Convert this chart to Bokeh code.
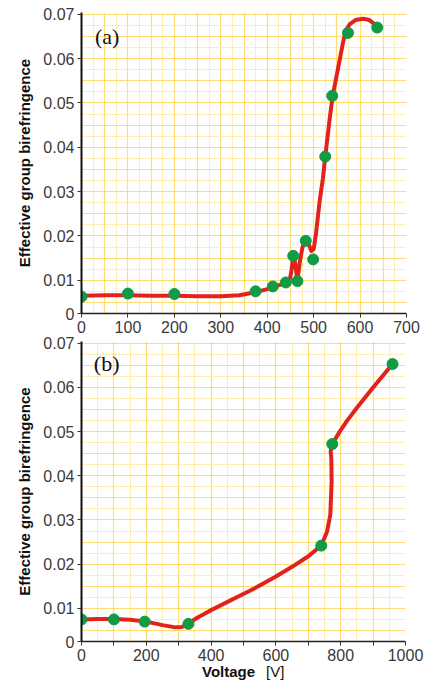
import numpy as np
from bokeh.plotting import figure
from bokeh.models import Range1d, FixedTicker, Label, Div
from bokeh.layouts import column
from bokeh.embed import file_html
from bokeh.resources import INLINE

# ---------------- data ----------------
# panel (a): fitted curve
a_curve_v = [0, 50, 100, 150, 200, 250, 300, 340, 375, 400, 412, 430, 441, 448, 452, 456,
             460, 465, 470, 476, 483, 490, 495, 500, 505, 513, 520, 525, 534, 541, 553,
             563, 570, 578, 590, 607, 620, 630, 637]
a_curve_y = [0.0065, 0.0066, 0.0066, 0.0065, 0.0065, 0.0064, 0.0064, 0.0066, 0.0073, 0.0080,
             0.0085, 0.0090, 0.0095, 0.0098, 0.0120, 0.0155, 0.0140, 0.0098, 0.0140, 0.0175,
             0.0189, 0.0180, 0.0166, 0.0170, 0.0204, 0.0279, 0.0330, 0.0379, 0.0460, 0.0516,
             0.0580, 0.0635, 0.0665, 0.0678, 0.0687, 0.0690, 0.0687, 0.0679, 0.0670]
# panel (a): measured points
a_pts_v = [0, 100, 200, 375, 412, 440, 456, 465, 483, 499, 525, 540, 574, 637]
a_pts_y = [0.0063, 0.0070, 0.0069, 0.0075, 0.0086, 0.0095, 0.0155, 0.0098, 0.0189, 0.0147,
           0.0379, 0.0516, 0.0658, 0.0670]

# panel (b): fitted curve
b_curve_v = [0, 50, 100, 150, 200, 250, 290, 310, 330, 345, 360, 380, 400, 430, 460, 490,
             520, 550, 600, 650, 700, 740, 758, 768, 772, 771, 769, 774, 797, 820, 850, 900,
             960]
b_curve_y = [0.0075, 0.0076, 0.0076, 0.0074, 0.0070, 0.0062, 0.0057, 0.0058, 0.0065, 0.0073,
             0.0080, 0.0088, 0.0096, 0.0107, 0.0118, 0.0129, 0.0140, 0.0152, 0.0172, 0.0194,
             0.0218, 0.0242, 0.0274, 0.0312, 0.0387, 0.0440, 0.0455, 0.0472, 0.0500, 0.0525,
             0.0554, 0.0600, 0.0653]
# panel (b): measured points
b_pts_v = [0, 100, 195, 330, 740, 774, 960]
b_pts_y = [0.0075, 0.0075, 0.0070, 0.0065, 0.0242, 0.0472, 0.0653]

# ticks
a_xticks = [0, 100, 200, 300, 400, 500, 600, 700]
b_xticks = [0, 100, 200, 300, 400, 500, 600, 700, 800, 900, 1000]
b_xtick_labels = ["0", "", "200", "", "400", "", "600", "", "800", "", "1000"]
y_axis_bottom = 0.0025
y_ticks = [y_axis_bottom, 0.01, 0.02, 0.03, 0.04, 0.05, 0.06, 0.07]
y_tick_labels = ["0", "0.01", "0.02", "0.03", "0.04", "0.05", "0.06", "0.07"]

y_label = "Effective group birefringence"
x_label_main = "Voltage"
x_label_unit = "[V]"

RED = "#E3231B"
GREEN = "#129A45"
FONT = "Liberation Sans"


def style(p, xticks, xlabels, xgrid_major, xgrid_minor):
    p.outline_line_color = None
    p.background_fill_color = "white"
    p.border_fill_color = "white"
    # grids (graph paper)
    p.xgrid.ticker = FixedTicker(ticks=xgrid_major, minor_ticks=xgrid_minor)
    p.ygrid.ticker = FixedTicker(ticks=list(np.arange(0.0, 0.0725, 0.005)),
                                 minor_ticks=list(np.arange(0.0025, 0.0725, 0.005)))
    for g in (p.xgrid, p.ygrid):
        g.grid_line_color = "#FFD24A"
        g.grid_line_alpha = 0.75
        g.grid_line_width = 1.2
        g.minor_grid_line_color = "#FFE07A"
        g.minor_grid_line_alpha = 0.85
        g.minor_grid_line_width = 1
        g.minor_grid_line_dash = "2 1"
    # axes
    p.xaxis.ticker = FixedTicker(ticks=xticks)
    p.xaxis.major_label_overrides = {t: l for t, l in zip(xticks, xlabels)}
    p.yaxis.ticker = FixedTicker(ticks=y_ticks)
    p.yaxis.major_label_overrides = {t: l for t, l in zip(y_ticks, y_tick_labels)}
    for ax in (p.xaxis, p.yaxis):
        ax.minor_tick_line_color = None
        ax.major_tick_in = 0
        ax.major_tick_out = 4
        ax.major_tick_line_color = "#333333"
        ax.major_label_text_font = FONT
        ax.major_label_text_font_size = "16px"
        ax.major_label_text_color = "#3a3a3a"
        ax.major_label_standoff = 3
    p.yaxis.axis_line_color = "#111111"
    p.yaxis.axis_line_width = 2
    p.xaxis.axis_line_color = "#222222"
    p.xaxis.axis_line_width = 1.5
    p.yaxis.axis_label = y_label
    p.yaxis.axis_label_text_font = FONT
    p.yaxis.axis_label_text_font_style = "bold"
    p.yaxis.axis_label_text_font_size = "15px"
    p.yaxis.axis_label_text_color = "#111111"
    p.yaxis.axis_label_standoff = 7


# ---------------- panel (a) ----------------
pa = figure(frame_width=325, frame_height=301, output_backend="svg", toolbar_location=None,
            x_range=Range1d(0, 700), y_range=Range1d(y_axis_bottom, 0.0704),
            min_border_left=78, min_border_right=22, min_border_top=12, min_border_bottom=23)
style(pa, a_xticks, [str(t) for t in a_xticks],
      list(np.arange(0, 701, 50)), list(np.arange(25, 701, 50)))
pa.line(a_curve_v, a_curve_y, line_color=RED, line_width=4, line_join="round")
pa.scatter(a_pts_v, a_pts_y, size=11, fill_color=GREEN, line_color=GREEN)
pa.add_layout(Label(x=29, y=0.0649, text="(a)", text_font="Liberation Serif",
                    text_font_size="22px", text_color="#111111", text_baseline="middle"))

# ---------------- panel (b) ----------------
pb = figure(frame_width=324, frame_height=300, output_backend="svg", toolbar_location=None,
            x_range=Range1d(0, 1000), y_range=Range1d(y_axis_bottom, 0.0704),
            min_border_left=81, min_border_right=20, min_border_top=5, min_border_bottom=22)
style(pb, b_xticks, b_xtick_labels,
      list(np.arange(0, 1001, 100)), list(np.arange(50, 1001, 100)))
pb.line(b_curve_v, b_curve_y, line_color=RED, line_width=4, line_join="round")
pb.scatter(b_pts_v, b_pts_y, size=11, fill_color=GREEN, line_color=GREEN)
pb.add_layout(Label(x=38, y=0.0654, text="(b)", text_font="Liberation Serif",
                    text_font_size="22px", text_color="#111111", text_baseline="middle"))

xlab = Div(
    text=(f'<span style="font-weight:bold">{x_label_main}</span>'
          f'<span style="margin-left:11px">{x_label_unit}</span>'),
    width=425, height=19, margin=0,
    styles={"font-family": "'Liberation Sans', Arial, sans-serif", "font-size": "15px",
            "color": "#111111", "padding-left": "202px", "line-height": "17px",
            "white-space": "nowrap"})

layout = column(pa, pb, xlab, spacing=0)
open("out.html", "w").write(file_html(layout, INLINE))
